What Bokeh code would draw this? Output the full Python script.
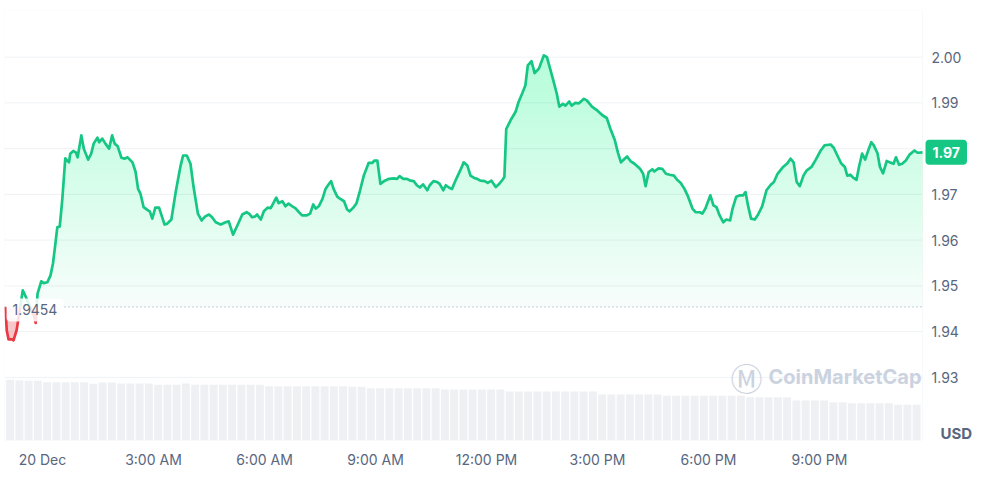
import numpy as np
from bokeh.plotting import figure
from bokeh.models import Range1d, FixedTicker, Label, BoxAnnotation
from bokeh.core.properties import value
from bokeh.embed import file_html
from bokeh.resources import INLINE

# ---- data (minutes after 20 Dec 00:00, price in USD) ----
minutes = [-60, -58, -55, -49, -47, -42, -40, -32, -28, -14,
           -11, -8, -2, 2, 8, 13, 17, 21, 24, 28,
           32, 37, 40, 43, 45, 50, 54, 57, 63, 67,
           74, 79, 83, 89, 92, 97, 102, 108, 113, 117,
           122, 128, 133, 138, 146, 151, 155, 159, 164, 170,
           174, 178, 183, 189, 198, 202, 209, 216, 224, 228,
           234, 240, 245, 252, 258, 264, 270, 275, 281, 289,
           297, 302, 309, 316, 324, 331, 335, 340, 345, 348,
           354, 359, 365, 370, 374, 379, 383, 389, 394, 399,
           405, 410, 416, 421, 428, 434, 439, 443, 448, 454,
           459, 463, 468, 472, 478, 483, 489, 494, 498, 504,
           509, 515, 521, 529, 535, 538, 543, 548, 555, 562,
           570, 575, 579, 585, 591, 597, 602, 607, 612, 617,
           624, 628, 634, 640, 644, 650, 654, 659, 664, 671,
           678, 683, 689, 694, 700, 705, 710, 717, 722, 728,
           735, 740, 746, 749, 752, 759, 767, 772, 778, 783,
           787, 793, 798, 805, 813, 818, 827, 834, 838, 844,
           848, 854, 858, 864, 870, 878, 883, 891, 900, 908,
           915, 921, 928, 933, 938, 944, 948, 954, 960, 969,
           974, 978, 983, 989, 992, 999, 1005, 1011, 1017, 1024,
           1029, 1035, 1041, 1046, 1054, 1059, 1066, 1070, 1075, 1083,
           1088, 1093, 1098, 1104, 1109, 1115, 1119, 1125, 1131, 1136,
           1140, 1144, 1149, 1155, 1160, 1167, 1174, 1181, 1186, 1192,
           1201, 1208, 1213, 1218, 1223, 1228, 1234, 1239, 1247, 1254,
           1262, 1268, 1278, 1283, 1289, 1295, 1301, 1305, 1310, 1315,
           1320, 1324, 1329, 1334, 1340, 1344, 1348, 1354, 1358, 1363,
           1369, 1374, 1380, 1384, 1389, 1394, 1400, 1406, 1414, 1419,
           1427]

price = [1.9454, 1.9403, 1.9383, 1.9383, 1.9381, 1.9403, 1.9420, 1.9490, 1.9479, 1.9435,
         1.9419, 1.9483, 1.9510, 1.9506, 1.9508, 1.9523, 1.9549, 1.9593, 1.9628, 1.9630,
         1.9687, 1.9779, 1.9774, 1.9770, 1.9789, 1.9795, 1.9792, 1.9781, 1.9829, 1.9800,
         1.9776, 1.9789, 1.9811, 1.9824, 1.9814, 1.9822, 1.9811, 1.9800, 1.9829, 1.9811,
         1.9805, 1.9780, 1.9778, 1.9781, 1.9770, 1.9749, 1.9712, 1.9701, 1.9672, 1.9666,
         1.9663, 1.9647, 1.9671, 1.9671, 1.9634, 1.9636, 1.9645, 1.9705, 1.9763, 1.9785,
         1.9785, 1.9767, 1.9716, 1.9658, 1.9643, 1.9652, 1.9656, 1.9650, 1.9639, 1.9634,
         1.9639, 1.9641, 1.9612, 1.9632, 1.9656, 1.9661, 1.9658, 1.9650, 1.9652, 1.9656,
         1.9645, 1.9663, 1.9671, 1.9670, 1.9680, 1.9693, 1.9681, 1.9685, 1.9674, 1.9680,
         1.9674, 1.9670, 1.9661, 1.9654, 1.9654, 1.9658, 1.9678, 1.9669, 1.9674, 1.9690,
         1.9712, 1.9720, 1.9729, 1.9712, 1.9695, 1.9690, 1.9685, 1.9667, 1.9663, 1.9671,
         1.9680, 1.9709, 1.9741, 1.9769, 1.9769, 1.9774, 1.9774, 1.9723, 1.9730, 1.9734,
         1.9735, 1.9734, 1.9740, 1.9734, 1.9734, 1.9730, 1.9729, 1.9720, 1.9715, 1.9722,
         1.9709, 1.9720, 1.9729, 1.9727, 1.9723, 1.9709, 1.9720, 1.9715, 1.9712, 1.9734,
         1.9754, 1.9770, 1.9763, 1.9741, 1.9736, 1.9734, 1.9730, 1.9729, 1.9725, 1.9730,
         1.9716, 1.9722, 1.9732, 1.9738, 1.9843, 1.9862, 1.9880, 1.9902, 1.9921, 1.9938,
         1.9982, 1.9991, 1.9965, 1.9975, 2.0004, 2.0000, 1.9956, 1.9920, 1.9892, 1.9898,
         1.9894, 1.9903, 1.9894, 1.9900, 1.9899, 1.9909, 1.9905, 1.9892, 1.9883, 1.9873,
         1.9867, 1.9843, 1.9819, 1.9792, 1.9770, 1.9778, 1.9783, 1.9772, 1.9767, 1.9756,
         1.9745, 1.9718, 1.9749, 1.9755, 1.9750, 1.9757, 1.9756, 1.9745, 1.9743, 1.9741,
         1.9732, 1.9725, 1.9712, 1.9698, 1.9669, 1.9661, 1.9661, 1.9658, 1.9669, 1.9698,
         1.9676, 1.9672, 1.9654, 1.9639, 1.9645, 1.9643, 1.9669, 1.9695, 1.9698, 1.9698,
         1.9705, 1.9676, 1.9647, 1.9645, 1.9655, 1.9674, 1.9709, 1.9721, 1.9727, 1.9745,
         1.9760, 1.9768, 1.9778, 1.9770, 1.9727, 1.9718, 1.9741, 1.9752, 1.9760, 1.9776,
         1.9796, 1.9807, 1.9809, 1.9802, 1.9785, 1.9768, 1.9760, 1.9741, 1.9743, 1.9736,
         1.9732, 1.9760, 1.9789, 1.9776, 1.9800, 1.9814, 1.9807, 1.9790, 1.9760, 1.9746,
         1.9773, 1.9770, 1.9767, 1.9781, 1.9765, 1.9767, 1.9774, 1.9787, 1.9796, 1.9791,
         1.9792]

open_price = 1.9454
open_label = "1.9454"
last_label = "1.97"
currency = "USD"

# 15-minute volume bars starting at 23:00 on 19 Dec (relative units)
volume = [607, 600, 597, 597, 583, 583, 583, 583, 583, 567,
          580, 580, 570, 570, 570, 570, 557, 557, 557, 570,
          557, 557, 557, 557, 557, 557, 557, 557, 543, 543,
          543, 543, 543, 543, 543, 543, 543, 537, 537, 523,
          523, 523, 523, 523, 523, 523, 523, 510, 510, 510,
          510, 510, 510, 510, 490, 490, 490, 490, 490, 490,
          490, 490, 490, 490, 460, 460, 460, 460, 460, 460,
          460, 447, 447, 447, 447, 447, 447, 447, 447, 447,
          433, 433, 433, 433, 433, 400, 400, 400, 400, 383,
          383, 373, 373, 373, 373, 373, 357, 357, 357, 350]
volume_start = -60
volume_step = 15

x_tick_minutes = [0, 180, 360, 540, 720, 900, 1080, 1260]
x_tick_labels = ["20 Dec", "3:00 AM", "6:00 AM", "9:00 AM",
                 "12:00 PM", "3:00 PM", "6:00 PM", "9:00 PM"]
y_ticks = [1.93, 1.94, 1.95, 1.96, 1.97, 1.98, 1.99, 2.00]
y_tick_labels = ["1.93", "1.94", "1.95", "1.96", "1.97", "1.97", "1.99", "2.00"]

assert len(minutes) == len(price)

GREEN = "#16c784"
RED = "#ea3943"
TXT = "#58667e"
FONT = "Inter"
BORDER = "#e6eaee"

# plotting window: data area [x0, x_end]; extra room on the right for the price scale
x0, x_end = -61.6, 1427.0
y0, y1 = 1.9162, 2.0102
DATA_W = 918
FRAME_W = 975
x_right = x0 + (x_end - x0) * FRAME_W / DATA_W

p = figure(frame_width=FRAME_W, frame_height=430, output_backend="svg",
           toolbar_location=None, x_range=Range1d(x0, x_right), y_range=Range1d(y0, y1),
           y_axis_location=None, min_border_left=4, min_border_right=0,
           min_border_top=10, min_border_bottom=28,
           background_fill_color="white", border_fill_color="white")
p.outline_line_color = None
p.xgrid.grid_line_color = None
p.ygrid.grid_line_color = None

# horizontal grid lines over the data area only
p.segment(x0=[x0] * len(y_ticks), x1=[x_end] * len(y_ticks), y0=y_ticks, y1=y_ticks,
          line_color="#eff2f5", line_width=1)

# volume (bars clipped to the data area)
p.extra_y_ranges = {"vol": Range1d(0, 4300)}
idx = np.arange(len(volume))
gap = volume_step * 0.07
vol_left = np.maximum(volume_start + volume_step * idx + gap, x0)
vol_right = np.minimum(volume_start + volume_step * (idx + 1) - gap, x_end - 0.8)
p.quad(left=vol_left, right=vol_right, top=volume, bottom=0,
       y_range_name="vol", fill_color="#eef0f3", line_color=None)

# split line at opening price
xs = np.array(minutes, dtype=float)
ys = np.array(price, dtype=float)
X = [xs[0]]
Y = [ys[0]]
for i in range(1, len(xs)):
    a, b = ys[i - 1], ys[i]
    if (a - open_price) * (b - open_price) < 0:
        t = (open_price - a) / (b - a)
        X.append(xs[i - 1] + t * (xs[i] - xs[i - 1]))
        Y.append(open_price)
    X.append(xs[i])
    Y.append(ys[i])
X = np.array(X)
Y = np.array(Y)

# green gradient fill (stacked translucent layers)
N = 40
for k in range(N):
    lvl = open_price + (y1 - open_price) * k / N
    alpha = 0.035 if k == 0 else 0.0078
    p.varea(x=X, y1=np.full_like(Y, lvl), y2=np.maximum(Y, lvl),
            fill_color=GREEN, fill_alpha=alpha)

# red fill below opening price
p.varea(x=X, y1=np.minimum(Y, open_price), y2=np.full_like(Y, open_price),
        fill_color=RED, fill_alpha=0.16)
lvl2 = open_price - 0.0025
p.varea(x=X, y1=np.minimum(Y, lvl2), y2=np.full_like(Y, lvl2),
        fill_color=RED, fill_alpha=0.14)

green_y = np.where(Y >= open_price, Y, np.nan)
red_y = np.where(Y <= open_price, Y, np.nan)
p.line(X, green_y, line_color=GREEN, line_width=2.7, line_join="round")
p.line(X, red_y, line_color=RED, line_width=2.7, line_join="round")

# border of the data area
p.add_layout(BoxAnnotation(left=x0, right=x_end, bottom=y0, top=y1,
                           fill_alpha=0, line_color=BORDER, line_width=1,
                           level="underlay"))

# opening price dotted line + label
p.segment(x0=[x0], x1=[x_end], y0=[open_price], y1=[open_price],
          line_color="#a6b0c3", line_dash="1 3", line_width=1.2)
p.add_layout(Label(x=x0, y=open_price, x_offset=2, y_offset=-3, text=open_label,
                   text_font=FONT, text_font_size="14px", text_color=TXT,
                   text_align="left", text_baseline="middle",
                   background_fill_color="white", background_fill_alpha=0.85,
                   padding=6, border_radius=4))

# x axis
xa = p.xaxis[0]
xa.ticker = FixedTicker(ticks=x_tick_minutes)
xa.major_label_overrides = {m: l for m, l in zip(x_tick_minutes, x_tick_labels)}
xa.axis_line_color = None
xa.major_tick_line_color = None
xa.minor_tick_line_color = None
xa.major_label_standoff = 4
xa.major_label_text_font = FONT
xa.major_label_text_font_size = "14px"
xa.major_label_text_color = TXT

# price scale on the right
p.text(x=[x_end] * len(y_ticks), y=y_ticks, text=y_tick_labels, x_offset=9,
       text_font=value(FONT), text_font_size="14px", text_color=TXT,
       text_align="left", text_baseline="middle")

# current price tag
p.add_layout(Label(x=x_end, y=price[-1], x_offset=3, text=last_label,
                   text_font=FONT, text_font_size="14px", text_font_style="bold",
                   text_color="white", text_align="left", text_baseline="middle",
                   background_fill_color=GREEN, padding=7, border_radius=4))

# currency
p.add_layout(Label(x=x_end, y=y0, x_offset=18, y_offset=7, text=currency,
                   text_font=FONT, text_font_size="15px", text_font_style="bold",
                   text_color=TXT, text_align="left", text_baseline="middle"))

# watermark
p.add_layout(Label(x=x_end, y=1.93, x_offset=-192, y_offset=0, text="Ⓜ",
                   text_font="Noto Sans CJK JP", text_font_size="32px",
                   text_color="#cbd2e0", text_align="left", text_baseline="middle"))
p.add_layout(Label(x=x_end, y=1.93, x_offset=-154, text="CoinMarketCap",
                   text_font=FONT, text_font_size="20px", text_font_style="bold",
                   text_color="#cbd2e0", text_align="left", text_baseline="middle"))

open("out.html", "w").write(file_html(p, INLINE))
